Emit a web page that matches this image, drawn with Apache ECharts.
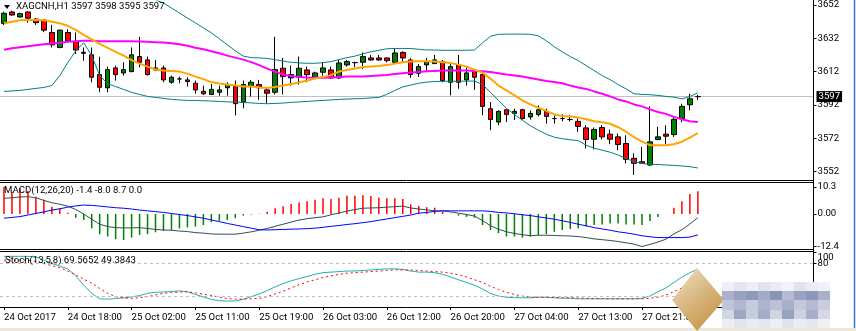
<!DOCTYPE html>
<html>
<head>
<meta charset="utf-8">
<script src="https://cdn.jsdelivr.net/npm/echarts@6/dist/echarts.min.js"></script>
<style>
html,body{margin:0;padding:0;background:#fff;overflow:hidden}
#chart{width:856px;height:331px}
</style>
</head>
<body>
<div id="chart"></div>
<script>
// XAGCNH hourly chart: candles with two moving averages and Bollinger bands,
// a MACD sub-window and a Stochastic sub-window.
const symbol = 'XAGCNH';
const timeframe = 'H1';

const open = [3641,3647.8,3644.8,3647.8,3643.5,3642.9,3635.5,3626.5,3635.5,3630.1,
3623.6,3622.1,3610.2,3602.3,3614.2,3611.2,3612,3621,3619,3614.2,
3614.2,3605.6,3607.6,3607,3605,3600.2,3598.3,3599.6,3602.3,3603,
3593.7,3603,3604.2,3601,3599.6,3614,3608.2,3608.6,3613,3608.6,
3611.6,3613,3608.2,3616,3617.4,3617.6,3620.2,3620.2,3620.2,3617.6,
3623.5,3619,3611,3616,3616.8,3618,3605.6,3616.2,3607,3612,
3610.2,3589.7,3581.7,3589.1,3586.9,3589.1,3584.8,3586.3,3588.1,3583.8,
3583.8,3583.2,3582.1,3578.2,3571.4,3578.4,3574.4,3572.8,3568.8,3559.9,
3557.9,3555.9,3571.2,3574.4,3574.2,3583.8,3592.1,3597];
const high = [3648,3648.5,3647.5,3648.2,3644.2,3643.2,3640.1,3637.3,3637.5,3635.5,
3626.5,3626.5,3620.9,3615,3615.6,3617.6,3626.5,3632.9,3621,3619,
3615.6,3609.6,3609,3608.5,3606.6,3603.5,3604.6,3603.5,3605.6,3606.6,
3606.6,3607,3607,3602.3,3632.9,3620.2,3615.6,3621,3615,3612,
3617.6,3615,3619,3619,3618,3623.5,3622,3622,3620.5,3626.1,
3624.2,3620.2,3616.6,3620.2,3622,3619,3616.6,3622,3614.6,3613,
3611.6,3593.7,3588.7,3589.1,3589.7,3589.7,3588.7,3591.7,3589.7,3585.7,
3586.3,3585.7,3583.8,3579.8,3578.4,3579.8,3577.2,3574.8,3573.8,3562.9,
3566.8,3591.1,3578.8,3579.8,3584.7,3592.7,3598.7,3598];
const low = [3640,3645.5,3644.5,3641.4,3640,3635.7,3626.5,3626,3629.5,3622.6,
3618.6,3605.6,3599.6,3599.6,3606.6,3609.6,3611.6,3614.6,3609.6,3612.6,
3605.6,3604.7,3605,3603,3598.7,3598,3598,3597.5,3597.6,3585.7,
3589.9,3597,3595,3592.7,3598.3,3598.3,3603.6,3604.2,3605.6,3608,
3609.6,3607.6,3607.6,3615,3614.6,3613.6,3618.5,3618.5,3617.5,3617.2,
3617.6,3608.2,3608.8,3612.6,3616.6,3605.6,3597.7,3601.7,3603.6,3601,
3585.7,3576.8,3579.8,3581.7,3582.9,3583.2,3583.2,3585.1,3580.8,3580.8,
3582.1,3582,3575.8,3565.8,3565.3,3571.2,3568.4,3564.8,3556.9,3549.9,
3556.5,3555.3,3570.8,3568.4,3572.8,3581.7,3588.7,3595];
const close = [3647,3646,3646.8,3644.1,3641.4,3636.9,3628.1,3636.9,3630.5,3625,
3623,3608.6,3602.6,3613.2,3610.2,3613.2,3622.1,3617.6,3610.2,3613,
3607,3608.6,3607.6,3606,3601,3598.7,3601.3,3601,3604.2,3592.7,
3604.2,3605.6,3602.3,3599,3613.2,3609,3610.2,3614,3610.2,3611.2,
3614.2,3608.2,3617.2,3618,3617.4,3621,3619,3619,3618.6,3623.2,
3620.2,3610.2,3615,3618,3619,3606.6,3615,3605.6,3611.2,3608.6,
3591.1,3583.2,3588.1,3586.3,3588.1,3583.8,3586.9,3589.1,3585.1,3583.8,
3583.8,3583.2,3579.1,3571.2,3577.2,3572.8,3571.4,3568.2,3559.3,3556.9,
3556.9,3569.8,3572.8,3573.2,3583.3,3591.1,3595.7,3597];

// fast (orange) and slow (magenta) moving averages
const maFast = [3641.0,3641.9,3642.8,3643.0,3643.0,3642.8,3641.9,3641.0,3639.5,3637.1,
3634.1,3631.4,3628.7,3626.3,3623.9,3621.6,3618.9,3616.8,3615.0,3613.2,
3612.6,3612.3,3612.0,3610.8,3609.0,3607.5,3605.7,3604.8,3604.2,3603.6,
3603.0,3603.0,3602.4,3602.2,3602.8,3603.6,3604.5,3605.4,3606.6,3607.8,
3608.7,3609.9,3612.0,3612.9,3613.8,3614.7,3615.0,3615.3,3615.9,3616.8,
3617.6,3618.0,3618.2,3618.2,3618.0,3617.6,3617.1,3616.2,3615.0,3613.2,
3611.4,3607.8,3603.6,3600.7,3597.7,3594.7,3592.3,3590.2,3588.4,3586.3,
3585.4,3585.1,3584.5,3583.4,3582.2,3581.6,3580.7,3578.6,3575.9,3572.6,
3569.9,3567.8,3567.8,3567.8,3568.4,3569.9,3572.3,3575.0];
const maSlow = [3625.1,3626.0,3626.6,3627.2,3627.8,3628.4,3628.9,3629.4,3629.9,3630.3,
3630.5,3630.5,3630.3,3630.3,3630.2,3630.2,3630.2,3630.1,3629.9,3629.7,
3629.5,3629.0,3628.4,3627.5,3626.3,3625.4,3624.2,3623.0,3621.6,3620.4,
3619.2,3617.7,3615.9,3613.8,3612.0,3610.2,3609.3,3608.7,3608.4,3608.3,
3608.3,3608.4,3608.8,3609.0,3609.0,3609.0,3609.3,3609.6,3609.9,3610.5,
3611.0,3611.4,3611.8,3612.2,3612.4,3612.6,3612.6,3612.6,3612.6,3612.4,
3612.2,3611.7,3611.0,3610.2,3609.6,3609.0,3608.1,3607.2,3606.3,3605.7,
3605.0,3603.6,3602.4,3601.6,3600.1,3598.7,3597.1,3595.3,3594.1,3592.3,
3591.1,3589.3,3587.7,3586.6,3584.8,3583.4,3582.2,3581.7];

// Bollinger bands
const bbUpper = [3690.2,3689.0,3687.8,3686.6,3685.4,3684.2,3683.0,3681.9,3680.7,3679.5,
3678.3,3675.9,3673.5,3671.1,3668.7,3666.3,3663.4,3660.4,3657.4,3655.0,
3653.2,3650.2,3647.2,3644.2,3641.3,3638.3,3635.3,3631.7,3628.1,3624.5,
3621.3,3620.4,3620.2,3619.9,3619.2,3618.3,3617.6,3617.2,3617.0,3617.0,
3617.4,3618.0,3619.2,3620.4,3621.3,3622.7,3623.9,3624.8,3625.7,3625.9,
3625.9,3625.9,3625.4,3625.0,3625.0,3624.8,3624.8,3624.8,3624.8,3625.0,
3629.3,3633.2,3634.4,3634.5,3634.5,3634.5,3634.4,3633.5,3630.5,3626.9,
3623.9,3621.0,3618.6,3615.6,3612.6,3609.6,3607.2,3604.2,3601.6,3598.7,
3598.3,3598.1,3597.7,3597.1,3596.7,3595.6,3597.1,3599.2];
const bbLower = [3600.1,3600.4,3600.7,3601.3,3601.9,3602.5,3603.6,3609.6,3617.4,3624.5,
3629.3,3621.6,3609.6,3604.8,3603.0,3601.3,3599.5,3598.3,3597.1,3596.5,
3595.9,3595.3,3595.0,3594.7,3594.7,3594.5,3594.3,3594.1,3593.8,3593.7,
3593.5,3593.2,3592.9,3592.7,3592.9,3593.1,3593.5,3593.8,3594.1,3594.4,
3594.7,3595.0,3595.3,3595.5,3595.7,3595.8,3596.2,3596.5,3598.3,3600.7,
3602.8,3603.9,3605.0,3605.7,3606.0,3606.2,3606.2,3606.2,3606.3,3606.3,
3604.2,3599.5,3594.7,3589.9,3586.3,3582.8,3579.5,3576.8,3574.4,3572.6,
3571.7,3571.1,3570.5,3567.8,3566.0,3564.8,3563.6,3561.9,3559.8,3558.0,
3556.8,3556.3,3556.2,3555.9,3555.7,3555.3,3554.9,3554.1];

// MACD(12,26,20)
const macdHist = [10.3,8.5,9.8,8.8,6.6,5.4,2.8,2.2,0.5,-1.4,
-2.3,-5.5,-7.7,-8.6,-9.6,-9.9,-9.0,-8.0,-7.7,-7.0,
-6.5,-6.1,-5.5,-5.1,-4.8,-4.2,-3.1,-2.6,-2.3,-1.6,
-0.6,-0.2,0.1,0.9,2.2,3.0,3.8,4.4,4.9,5.4,
6.0,5.7,6.2,7.0,7.0,7.2,6.9,6.3,6.0,6.0,
5.7,3.7,3.1,2.6,2.4,0.9,0.1,-0.6,-1.1,-1.4,
-4.2,-6.1,-7.3,-8.6,-8.6,-9.0,-8.6,-8.0,-7.7,-6.8,
-6.1,-5.7,-5.5,-4.8,-4.2,-4.0,-3.6,-3.6,-4.0,-4.0,
-4.2,-2.7,-1.1,0.0,2.4,4.9,7.6,8.7];
const macdMain = [6.0,6.2,6.5,6.6,6.2,5.2,4.3,3.7,3.0,1.7,
0.0,-2.0,-3.9,-4.8,-5.2,-5.3,-5.3,-5.2,-5.5,-5.9,
-6.1,-6.2,-6.5,-6.7,-7.1,-7.3,-7.6,-7.7,-7.7,-7.7,
-7.3,-6.8,-6.2,-5.5,-4.7,-3.9,-3.1,-2.3,-1.8,-1.4,
-1.1,-0.3,0.4,1.1,1.7,2.2,2.3,2.4,2.6,2.8,
3.0,2.3,1.9,1.6,1.2,1.2,0.8,0.3,-0.2,-0.8,
-2.5,-4.5,-5.8,-6.8,-7.4,-7.9,-8.3,-8.1,-8.1,-8.2,
-8.3,-8.4,-8.6,-9.0,-9.5,-9.8,-10.1,-10.5,-11.0,-11.5,
-12.4,-11.6,-10.7,-9.6,-7.6,-6.0,-3.8,-1.4];
const macdSignal = [-1.6,-1.3,-1.0,-0.4,0.2,0.8,1.5,2.0,2.6,3.1,
3.4,3.3,3.0,2.7,2.4,2.2,1.9,1.5,1.2,0.9,
0.6,0.2,-0.2,-0.6,-1.1,-1.6,-2.3,-2.9,-3.6,-4.2,
-4.8,-5.4,-6.0,-6.1,-6.0,-5.9,-5.8,-5.7,-5.6,-5.4,
-5.1,-4.7,-4.4,-4.0,-3.7,-3.3,-2.9,-2.4,-1.9,-1.4,
-0.9,-0.4,0.3,0.6,1.0,1.2,1.2,1.2,1.2,1.2,
1.2,1.0,0.6,0.4,0.1,-0.3,-0.6,-1.1,-1.5,-2.0,
-2.6,-3.2,-3.9,-4.5,-5.2,-5.7,-6.2,-6.8,-7.2,-7.7,
-8.3,-8.7,-9.0,-9.0,-9.0,-9.0,-8.8,-8.0];

// Stochastic(13,5,8)
const stochMain = [93,93,93,93,92,86,80,75,70,57,
40,25,15,14.5,15.5,17,18.5,21,25,27,
27.5,28.5,29.5,28,23,18.5,14,11.5,11,11,
14,19,24,30,37,43,48,52,56,60,
63,64,65,66,66,67,68,69,70,70,
69,66,64,64,63,60,55,50,45,40,
33,25,20,18,17,17,17,18,18,17,
16,16,15,15,15,15,15,15,15,15,
16,20,28,35,45,55,63,69.5652];
const stochSignal = [86,86,86,86,84,80,76,72,66,59,
51,44,34,25,19,16.5,15.8,17,19,22,
25,26.5,27.5,28,26,23.5,21,18,15.5,14.5,
14.5,15,15.8,19,24,29,35,41,46,50,
54,57,60,62,63,64,65,66,67,68,
68,68,67,66,65,64,62,59,55,50,
45,38,32,27,23,20,18,17.5,17.5,17.5,
17,17,16.5,16,15.5,15.5,15,15,15,15,
15,16,18,22,28,35,42,49.3843];

// axis ticks
const priceTicks = [3552, 3572, 3592, 3612, 3632, 3652];
const macdTicks = [-12.4, 0, 10.3];
const stochTop = [100];
const stochLevelTicks = [80];
const stochLevels = [20, 80];
const timeTicks = ['24 Oct 2017','24 Oct 18:00','25 Oct 02:00','25 Oct 11:00','25 Oct 19:00',
  '26 Oct 03:00','26 Oct 12:00','26 Oct 20:00','27 Oct 04:00','27 Oct 13:00','27 Oct 21:00'];

const BARS = open.length;
const SLOTS = 102;          // bars plus the empty shift area on the right
const TICK_STEP = 8;        // one time label every 8 bars

// hourly bar times, with the daily 06:00 session break skipped
const categories = [];
(function () {
  const days = ['24 Oct', '25 Oct', '26 Oct', '27 Oct', '28 Oct', '29 Oct'];
  let d = 0, h = 10;
  for (let i = 0; i < SLOTS; i++) {
    categories.push(days[d] + ' ' + String(h).padStart(2, '0') + ':00');
    h++;
    if (h === 24) { h = 0; d++; }
    if (h === 6) h = 7;
  }
})();

const last = BARS - 1;
const FONT = 'Roboto, "Liberation Sans", sans-serif';
const FS = 9.6;
const isTimeTick = (i) => i % TICK_STEP === 0 && i / TICK_STEP < timeTicks.length;

const hiddenX = (gi) => ({
  type: 'category', gridIndex: gi, data: categories, boundaryGap: true,
  axisLine: { show: false }, axisTick: { show: false }, axisLabel: { show: false }, splitLine: { show: false }
});

const GL = -2.5, GW = 816;   // 8px per slot, right edge on the price scale line
const AXIS_X = 813.5;

const histUp = Math.max(macdHist[last], 0);
const histDown = Math.min(macdHist[last], 0);

function text(x, y, str) {
  return { type: 'text', x: x, y: y, z: 100, silent: true,
    style: { text: str, fill: '#000', fontSize: FS, fontFamily: FONT, verticalAlign: 'middle', align: 'left' } };
}
function hline(y, x1, x2, color) {
  return { type: 'line', z: 50, silent: true, shape: { x1: x1, y1: y, x2: x2, y2: y }, style: { stroke: color || '#000', lineWidth: 1 } };
}

// pixel mosaic of the site mark in the lower right corner
const markBlocks = [];
(function () {
  const rows = [
    { y: 282, h: 9, cols: ['#eef0f5','#e3e6ee','#eceef4','#dfe3ec','#e8ebf2','#f2f3f7','#e0e4ed','#eaecf3','#f0f1f6'] },
    { y: 291, h: 9, cols: ['#a9b1cb','#97a1c0','#8f99bb','#a3abc7','#8a95b8','#b4bbd2','#99a3c1','#8d97b9','#a8b0ca'] },
    { y: 300, h: 10, cols: ['#bfc5d8','#b0b7cf','#c6cbdc','#adb4cd','#bcc2d6','#a8afca','#c3c9db','#b3bad1','#c9cede'] },
    { y: 310, h: 9, cols: ['#d3d7e4','#9ea7c4','#c8cddd','#a5adc8','#d0d4e2','#98a1c0','#cdd1e0','#a7afc9','#d6d9e5'] },
    { y: 319, h: 9, cols: ['#eceef3','#e2e5ec','#e9ebf1','#e4e7ee','#edeff4','#e1e4eb','#ebedf2','#e6e8ef','#f0f1f5'] }
  ];
  rows.forEach(r => r.cols.forEach((c, j) => {
    markBlocks.push({ type: 'rect', z: 60, silent: true, shape: { x: 722 + j * 12, y: r.y, width: 12, height: r.h }, style: { fill: c } });
  }));
})();

const plain = (v) => String(v);

function rightAxis(gi, min, max, ticks, extra) {
  return Object.assign({
    type: 'value', gridIndex: gi, position: 'right', min: min, max: max,
    axisLine: { show: false }, splitLine: { show: false },
    axisTick: { show: true, customValues: ticks, length: 3, lineStyle: { color: '#000' } },
    axisLabel: Object.assign({ show: true, customValues: ticks, margin: 4, color: '#000', fontFamily: FONT, fontSize: FS,
      formatter: plain, hideOverlap: false, showMinLabel: true, showMaxLabel: true }, extra || {})
  });
}

const option = {
  animation: false,
  backgroundColor: '#ffffff',
  grid: [
    { left: GL, width: GW, top: 0, height: 180 },
    { left: GL, width: GW, top: 187, height: 59.5 },
    { left: GL, width: GW, top: 252.5, height: 54.5 }
  ],
  xAxis: [
    hiddenX(0), hiddenX(1),
    { type: 'category', gridIndex: 2, data: categories, boundaryGap: true,
      axisLine: { show: true, lineStyle: { color: '#000', width: 1 } },
      axisTick: { show: true, alignWithLabel: true, interval: (i) => isTimeTick(i), length: 3, lineStyle: { color: '#000' } },
      axisLabel: { show: true, interval: (i) => isTimeTick(i), formatter: (v, i) => timeTicks[i / TICK_STEP],
        align: 'left', margin: 6, color: '#000', fontFamily: FONT, fontSize: FS, hideOverlap: false },
      splitLine: { show: false } }
  ],
  yAxis: [
    rightAxis(0, 3546.9, 3654.4, priceTicks),
    rightAxis(1, -12.4, 10.3, macdTicks, { formatter: (v) => (v === 0 ? '0.00' : v.toFixed(1)) }),
    rightAxis(2, 0, 100, stochTop, { verticalAlign: 'top' }),
    rightAxis(2, 0, 100, stochLevelTicks)
  ],
  series: [
    { type: 'candlestick', xAxisIndex: 0, yAxisIndex: 0, barWidth: 5, z: 2,
      data: open.map((o, i) => [o, close[i], low[i], high[i]]),
      itemStyle: { color: '#008000', color0: '#ff0000', borderColor: '#000', borderColor0: '#000', borderColorDoji: '#000', borderWidth: 1 },
      markLine: { silent: true, symbol: 'none', animation: false, z: 1,
        data: [{ yAxis: close[last] }],
        lineStyle: { color: '#c0c0c0', type: 'solid', width: 1 },
        label: { show: true, position: 'end', distance: 3, formatter: (p) => String(p.value),
          color: '#fff', backgroundColor: '#000', padding: [1, 2, 0, 2], fontFamily: FONT, fontSize: FS } } },
    { type: 'line', xAxisIndex: 0, yAxisIndex: 0, data: bbUpper, symbol: 'none', silent: true, z: 3,
      lineStyle: { color: '#008080', width: 1 } },
    { type: 'line', xAxisIndex: 0, yAxisIndex: 0, data: bbLower, symbol: 'none', silent: true, z: 3,
      lineStyle: { color: '#008080', width: 1 } },
    { type: 'line', xAxisIndex: 0, yAxisIndex: 0, data: maSlow, symbol: 'none', silent: true, z: 4,
      lineStyle: { color: '#ff00ff', width: 2 } },
    { type: 'line', xAxisIndex: 0, yAxisIndex: 0, data: maFast, symbol: 'none', silent: true, z: 4,
      lineStyle: { color: '#ffa500', width: 2 } },

    { type: 'bar', xAxisIndex: 1, yAxisIndex: 1, barWidth: 1.5, silent: true,
      data: macdHist.map(v => ({ value: v, itemStyle: { color: v >= 0 ? '#ff0000' : '#008000' } })) },
    { type: 'line', xAxisIndex: 1, yAxisIndex: 1, data: macdMain, symbol: 'none', silent: true, z: 3,
      lineStyle: { color: '#2f4f4f', width: 1 } },
    { type: 'line', xAxisIndex: 1, yAxisIndex: 1, data: macdSignal, symbol: 'none', silent: true, z: 3,
      lineStyle: { color: '#0000ff', width: 1 } },

    { type: 'line', xAxisIndex: 2, yAxisIndex: 2, data: stochMain, symbol: 'none', silent: true, z: 4,
      lineStyle: { color: '#20b2aa', width: 1 },
      markLine: { silent: true, symbol: 'none', animation: false, label: { show: false },
        data: stochLevels.map(v => ({ yAxis: v })),
        lineStyle: { color: '#c0c0c0', type: [3, 3], width: 1 } } },
    { type: 'line', xAxisIndex: 2, yAxisIndex: 2, data: stochSignal, symbol: 'none', silent: true, z: 4,
      lineStyle: { color: '#ff0000', width: 1, type: [2, 3] } }
  ],
  graphic: [
    // panel frames and the price scale line
    hline(180.5, 0, 813), hline(182.5, 0, 813), hline(249.5, 0, 813), hline(251.5, 0, 813),
    { type: 'line', z: 50, silent: true, shape: { x1: AXIS_X, y1: 0, x2: AXIS_X, y2: 307 }, style: { stroke: '#000', lineWidth: 1 } },
    // window edges
    { type: 'line', z: 50, silent: true, shape: { x1: 854.5, y1: 0, x2: 854.5, y2: 328 }, style: { stroke: '#3a6fd8', lineWidth: 1.5 } },
    { type: 'rect', z: 50, silent: true, shape: { x: 0, y: 328, width: 856, height: 3 }, style: { fill: '#ece9d8' } },
    // indicator captions
    { type: 'polygon', z: 100, silent: true, shape: { points: [[4, 5], [10, 5], [7, 9]] }, style: { fill: '#000' } },
    text(16, 7, symbol + ',' + timeframe + ' ' + open[last] + ' ' + high[last] + ' ' + low[last] + ' ' + close[last]),
    text(4, 191, 'MACD(12,26,20) ' + macdMain[last].toFixed(1) + ' ' + macdSignal[last].toFixed(1) + ' ' +
      histUp.toFixed(1) + ' ' + Math.abs(histDown).toFixed(1)),
    text(5, 260.5, 'Stoch(13,5,8) ' + stochMain[last].toFixed(4) + ' ' + stochSignal[last].toFixed(4)),
    // site mark
    { type: 'polygon', z: 60, silent: true, shape: { points: [[697, 268], [724, 300], [697, 331], [672, 300]] },
      style: { fill: { type: 'linear', x: 0, y: 0, x2: 1, y2: 1, colorStops: [
        { offset: 0, color: '#f1e2c4' }, { offset: 0.5, color: '#d6b47a' }, { offset: 1, color: '#c08a3a' }] } } }
  ].concat(markBlocks)
};

const chart = echarts.init(document.getElementById('chart'), null, { renderer: 'canvas' });
chart.setOption(option);
</script>
</body>
</html>
